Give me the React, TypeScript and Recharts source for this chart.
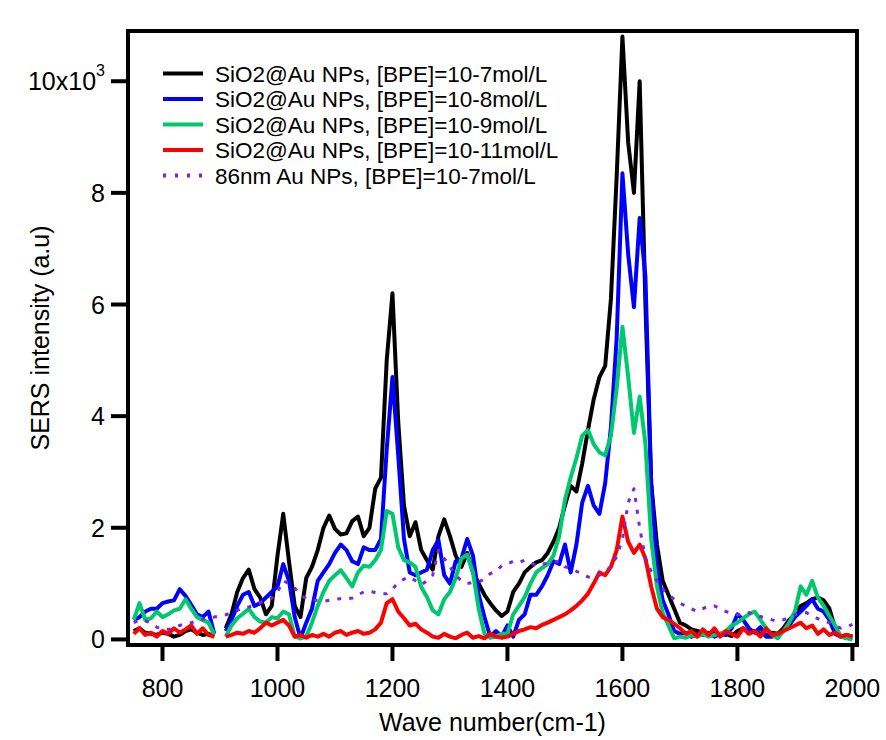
import React from 'react';
import { LineChart, Line, XAxis, YAxis, Label } from 'recharts';

const wavenumbers = [
  750, 760, 770, 780, 790, 800, 810, 820, 830, 840,
  850, 860, 870, 880, 890, 900, 910, 920, 930, 940,
  950, 960, 970, 980, 990, 1000, 1010, 1020, 1030, 1040,
  1050, 1060, 1070, 1080, 1090, 1100, 1110, 1120, 1130, 1140,
  1150, 1160, 1170, 1180, 1190, 1200, 1210, 1220, 1230, 1240,
  1250, 1260, 1270, 1280, 1290, 1300, 1310, 1320, 1330, 1340,
  1350, 1360, 1370, 1380, 1390, 1400, 1410, 1420, 1430, 1440,
  1450, 1460, 1470, 1480, 1490, 1500, 1510, 1520, 1530, 1540,
  1550, 1560, 1570, 1580, 1590, 1600, 1610, 1620, 1630, 1640,
  1650, 1660, 1670, 1680, 1690, 1700, 1710, 1720, 1730, 1740,
  1750, 1760, 1770, 1780, 1790, 1800, 1810, 1820, 1830, 1840,
  1850, 1860, 1870, 1880, 1890, 1900, 1910, 1920, 1930, 1940,
  1950, 1960, 1970, 1980, 1990, 2000,
];

const sio2Au_bpe1e7 = [
  0.15, 0.2, 0.12, 0.1, 0.08, 0.12, 0.1, 0.05, 0.08, 0.15,
  0.18, 0.12, 0.08, 0.1, 0.05, null, 0.2, 0.45, 0.85, 1.1,
  1.25, 0.9, 0.75, 0.45, 0.6, 1.5, 2.25, 1.4, 0.6, 0.4,
  1.1, 1.3, 1.6, 2.0, 2.22, 1.98, 1.88, 1.9, 2.12, 2.2,
  1.85, 2.0, 2.7, 2.9, 5.0, 6.2, 3.9, 2.4, 1.85, 2.1,
  1.6, 1.42, 1.25, 1.85, 2.15, 1.85, 1.5, 1.3, 1.55, 1.2,
  1.0, 0.8, 0.65, 0.52, 0.42, 0.5, 0.85, 1.0, 1.2, 1.3,
  1.38, 1.42, 1.55, 1.75, 2.0, 2.4, 2.75, 2.65, 3.15, 3.75,
  4.3, 4.7, 4.9, 6.1, 8.3, 10.8, 8.9, 8.0, 10.0, 6.0,
  2.8, 1.7, 1.05, 0.8, 0.55, 0.3, 0.25, 0.18, 0.15, 0.12,
  0.1, 0.12, 0.08, 0.1, 0.06, 0.15, 0.2, 0.12, 0.15, 0.1,
  0.08, 0.12, 0.1, 0.2, 0.35, 0.45, 0.6, 0.65, 0.72, 0.75,
  0.7, 0.55, 0.2, 0.05, 0.08, 0.05,
];

const sio2Au_bpe1e8 = [
  0.35, 0.4, 0.5, 0.55, 0.55, 0.65, 0.68, 0.7, 0.9, 0.78,
  0.62, 0.45, 0.4, 0.5, 0.1, null, 0.15, 0.35, 0.6, 0.8,
  0.85, 0.6, 0.65, 0.75, 0.85, 0.95, 1.35, 1.05, 0.4, 0.02,
  0.3, 0.55, 1.05, 1.2, 1.35, 1.55, 1.7, 1.6, 1.4, 1.35,
  1.65, 1.6, 1.6, 1.8, 3.4, 4.7, 3.3, 1.8, 1.2, 1.15,
  1.2, 1.25, 1.6, 1.78, 1.15, 1.0, 1.4, 1.45, 1.8, 1.5,
  0.8, 0.4, 0.05, 0.15, 0.05, 0.25, 0.05, 0.35, 0.45, 0.8,
  0.8, 0.95, 1.15, 1.4, 1.35, 1.7, 1.2, 1.7, 2.45, 2.75,
  2.4, 2.25, 2.8, 3.8, 5.4, 8.35, 6.9, 5.95, 7.55, 6.5,
  2.8, 1.3, 0.7, 0.45, 0.15, 0.1, 0.12, 0.05, 0.1, 0.08,
  0.12, 0.05, 0.1, 0.08, 0.2, 0.45, 0.35, 0.2, 0.12, 0.22,
  0.05, 0.05, 0.1, 0.15, 0.25, 0.4, 0.5, 0.6, 0.72, 0.55,
  0.5, 0.35, 0.1, 0.05, 0.03, 0.02,
];

const sio2Au_bpe1e9 = [
  0.35, 0.65, 0.35, 0.38, 0.5, 0.4, 0.45, 0.52, 0.55, 0.72,
  0.55, 0.4, 0.35, 0.3, 0.08, null, 0.05, 0.25, 0.38, 0.46,
  0.55, 0.4, 0.32, 0.3, 0.4, 0.38, 0.5, 0.45, 0.05, 0.02,
  0.05, 0.3, 0.6, 0.85, 1.05, 1.15, 1.24, 1.1, 0.95, 1.2,
  1.32, 1.3, 1.42, 1.6, 2.3, 2.25, 1.65, 1.42, 1.38, 1.3,
  0.94, 0.76, 0.52, 0.45, 0.72, 0.85, 1.1, 1.45, 1.52, 1.2,
  0.55, 0.1, 0.03, 0.05, 0.1, 0.1, 0.45, 0.6, 0.76, 1.0,
  1.2, 1.28, 1.35, 1.5, 1.85, 2.5, 2.9, 3.25, 3.65, 3.75,
  3.5, 3.35, 3.3, 3.65, 4.5, 5.6, 4.7, 3.7, 4.35, 3.5,
  1.8, 0.95, 0.47, 0.25, 0.02, 0.05, 0.03, 0.08, 0.05, 0.1,
  0.05, 0.08, 0.1, 0.15, 0.25, 0.3, 0.38, 0.45, 0.5, 0.35,
  0.2, 0.08, 0.02, 0.15, 0.3, 0.5, 0.95, 0.8, 1.05, 0.75,
  0.6, 0.42, 0.25, 0.05, 0.02, 0.0,
];

const sio2Au_bpe1e11 = [
  0.1, 0.2, 0.08, 0.12, 0.05, 0.15, 0.1, 0.2, 0.12, 0.18,
  0.25, 0.1, 0.2, 0.08, 0.05, null, 0.05, 0.08, 0.12, 0.1,
  0.15, 0.12, 0.2, 0.3, 0.25, 0.3, 0.35, 0.25, 0.05, 0.08,
  0.03, 0.08, 0.05, 0.1, 0.05, 0.12, 0.15, 0.08, 0.12, 0.15,
  0.1, 0.12, 0.18, 0.3, 0.65, 0.72, 0.5, 0.38, 0.25, 0.28,
  0.18, 0.12, 0.05, 0.03, 0.1, 0.05, 0.02, 0.08, 0.12, 0.03,
  0.06, 0.02, 0.1, 0.05, 0.03, 0.05, 0.1, 0.15, 0.18, 0.22,
  0.2, 0.26, 0.3, 0.35, 0.4, 0.45, 0.52, 0.6, 0.7, 0.82,
  1.0, 1.2, 1.15, 1.3, 1.6, 2.2, 1.75, 1.55, 1.7, 1.45,
  0.95, 0.55, 0.4, 0.35, 0.28, 0.2, 0.1, 0.15, 0.05, 0.18,
  0.08, 0.2, 0.05, 0.15, 0.1, 0.05, 0.2, 0.1, 0.15, 0.05,
  0.2, 0.08, 0.1, 0.15, 0.2, 0.25, 0.3, 0.2, 0.25, 0.1,
  0.18, 0.08, 0.12, 0.05, 0.08, 0.05,
];

const au86nm_bpe1e7 = [
  0.3, 0.35, 0.33, 0.3, 0.22, 0.18, 0.18, 0.2, 0.25, 0.28,
  0.3, 0.33, 0.36, 0.39, 0.4, 0.42, 0.44, 0.48, 0.52, 0.56,
  0.58, 0.62, 0.66, 0.7, 0.74, 0.85, 1.05, 1.0, 0.92, 0.8,
  0.73, 0.7, 0.7, 0.68, 0.7, 0.72, 0.73, 0.73, 0.74, 0.8,
  0.85, 0.86, 0.84, 0.82, 0.82, 0.9, 1.02, 1.08, 1.12, 1.05,
  0.98, 1.05, 1.15, 1.6, 1.45, 1.3, 1.15, 1.05, 1.0, 1.02,
  1.03, 1.08, 1.18, 1.22, 1.32, 1.35, 1.4, 1.38, 1.42, 1.38,
  1.32, 1.35, 1.36, 1.38, 1.4, 1.3, 1.28, 1.22, 1.18, 1.12,
  1.1, 1.15, 1.2, 1.32, 1.48, 1.8, 2.45, 2.7, 2.0, 1.45,
  1.22, 1.05, 0.9, 0.8, 0.72, 0.65, 0.6, 0.55, 0.5, 0.55,
  0.6, 0.6, 0.55, 0.5, 0.46, 0.44, 0.46, 0.48, 0.44, 0.41,
  0.38, 0.35, 0.33, 0.35, 0.4, 0.44, 0.47, 0.48, 0.42, 0.37,
  0.33, 0.3, 0.25, 0.2, 0.22, 0.27,
];

const xTicks = [800, 1000, 1200, 1400, 1600, 1800, 2000];
const yTicks = [0, 2, 4, 6, 8, 10];

const seriesList = [
  { key: 's7', name: 'SiO2@Au NPs, [BPE]=10-7mol/L', color: '#000000', values: sio2Au_bpe1e7, dotted: false },
  { key: 's8', name: 'SiO2@Au NPs, [BPE]=10-8mol/L', color: '#0000ff', values: sio2Au_bpe1e8, dotted: false },
  { key: 's9', name: 'SiO2@Au NPs, [BPE]=10-9mol/L', color: '#00c86e', values: sio2Au_bpe1e9, dotted: false },
  { key: 's11', name: 'SiO2@Au NPs, [BPE]=10-11mol/L', color: '#ff0000', values: sio2Au_bpe1e11, dotted: false },
  { key: 'au86', name: '86nm Au NPs, [BPE]=10-7mol/L', color: '#7b22e4', values: au86nm_bpe1e7, dotted: true },
];

const data = wavenumbers.map((x, i) => {
  const row: Record<string, number | null> = { x };
  seriesList.forEach((s) => {
    row[s.key] = s.values[i];
  });
  return row;
});

const FONT = '"Liberation Sans", Arial, Helvetica, sans-serif';

const YTick = (props: any) => {
  const { x, y, payload } = props;
  if (payload.value === 10) {
    return (
      <text x={x} y={y} dy={9} textAnchor="end" fontSize={25} fontFamily={FONT} fill="#000">
        10x10
        <tspan dy={-14} fontSize={16}>3</tspan>
      </text>
    );
  }
  return (
    <text x={x} y={y} dy={9} textAnchor="end" fontSize={25} fontFamily={FONT} fill="#000">
      {payload.value}
    </text>
  );
};

const XTitle = (props: any) => {
  const vb = props.viewBox || { x: 128, y: 645, width: 729, height: 45 };
  return (
    <text x={vb.x + vb.width / 2} y={vb.y + vb.height + 41} textAnchor="middle" fontSize={25} fontFamily={FONT} fill="#000">
      Wave number(cm-1)
    </text>
  );
};

const YTitle = (props: any) => {
  const vb = props.viewBox || { x: 58, y: 31, width: 70, height: 614 };
  const cx = vb.x - 18;
  const cy = vb.y + vb.height / 2;
  return (
    <text x={cx} y={cy} dy="0.355em" textAnchor="middle" fontSize={25} fontFamily={FONT} fill="#000" transform={`rotate(-90 ${cx} ${cy})`}>
      SERS intensity (a.u)
    </text>
  );
};

const axisLineStyle = { stroke: '#000', strokeWidth: 4, strokeLinecap: 'square' as const };
const tickLineStyle = { stroke: '#000', strokeWidth: 4 };

const legendRows = [73.5, 99, 124.5, 150, 175.5];

export default function App() {
  return (
    <div style={{ position: 'absolute', left: 0, top: 0, width: 886, height: 740, background: '#fff' }}>
      <LineChart width={886} height={740} data={data} margin={{ top: 11, right: 9, bottom: 50, left: 58 }}>
        <XAxis
          dataKey="x"
          type="number"
          domain={[740, 2008]}
          ticks={xTicks}
          allowDataOverflow
          height={45}
          tickSize={16}
          tickMargin={18}
          axisLine={axisLineStyle}
          tickLine={tickLineStyle}
          tick={{ fill: '#000', fontSize: 25, fontFamily: FONT }}
          label={<Label content={XTitle} />}
        />
        <XAxis
          xAxisId="top"
          orientation="top"
          type="number"
          domain={[740, 2008]}
          ticks={xTicks}
          allowDataOverflow
          height={20}
          tickSize={11}
          axisLine={axisLineStyle}
          tickLine={tickLineStyle}
          tick={false}
        />
        <YAxis
          type="number"
          domain={[-0.1, 10.9]}
          ticks={yTicks}
          allowDataOverflow
          width={70}
          tickSize={17}
          tickMargin={6}
          axisLine={axisLineStyle}
          tickLine={tickLineStyle}
          tick={<YTick />}
          label={<Label content={YTitle} />}
        />
        <YAxis
          yAxisId="right"
          orientation="right"
          type="number"
          domain={[-0.1, 10.9]}
          ticks={yTicks}
          allowDataOverflow
          width={20}
          tickSize={13}
          axisLine={axisLineStyle}
          tickLine={tickLineStyle}
          tick={false}
        />
        {seriesList.map((s) => (
          <Line
            key={s.key}
            dataKey={s.key}
            name={s.name}
            type="linear"
            stroke={s.color}
            strokeWidth={s.dotted ? 3 : 4}
            strokeDasharray={s.dotted ? '4 8' : undefined}
            strokeLinejoin="round"
            dot={false}
            activeDot={false}
            connectNulls={false}
            isAnimationActive={false}
          />
        ))}
      </LineChart>
      <svg width={886} height={740} style={{ position: 'absolute', left: 0, top: 0, pointerEvents: 'none' }}>
        {seriesList.map((s, i) => (
          <g key={s.key}>
            <line
              x1={163}
              x2={203}
              y1={legendRows[i]}
              y2={legendRows[i]}
              stroke={s.color}
              strokeWidth={4}
              strokeDasharray={s.dotted ? '3 9' : undefined}
            />
            <text x={215} y={legendRows[i] + 8} fontSize={22.5} fontFamily={FONT} fill="#000">
              {s.name}
            </text>
          </g>
        ))}
      </svg>
    </div>
  );
}
